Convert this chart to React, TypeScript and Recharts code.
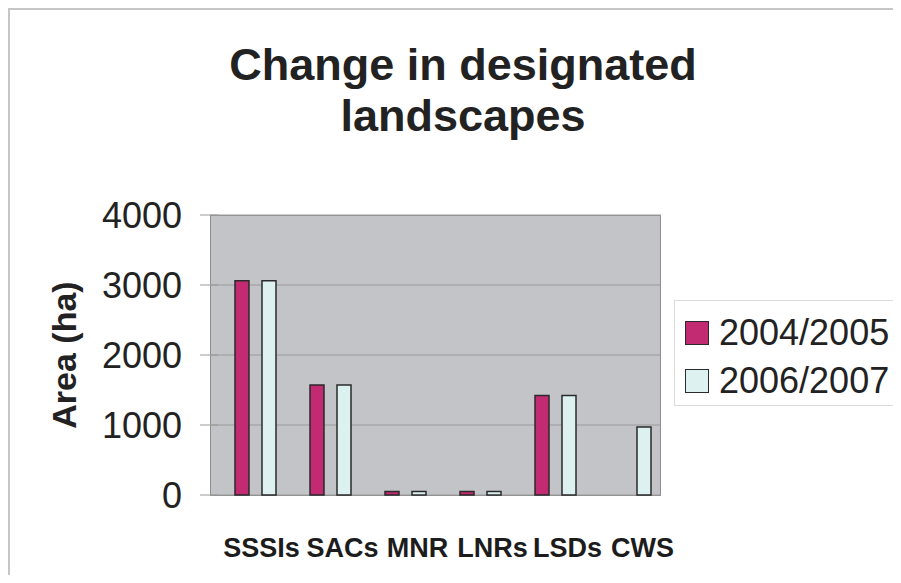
import React from "react";
import { Bar, BarChart, CartesianGrid, Legend, XAxis, YAxis } from "recharts";

const categories = ["SSSIs", "SACs", "MNR", "LNRs", "LSDs", "CWS"];
const area2004 = [3060, 1570, 50, 50, 1420, 0];
const area2006 = [3060, 1570, 50, 50, 1420, 970];
const yTicks = [0, 1000, 2000, 3000, 4000];

const seriesList = [
  { key: "s2004", name: "2004/2005", color: "#c22a72" },
  { key: "s2006", name: "2006/2007", color: "#ddf1f1" },
];

const FONT = '"Liberation Sans", Arial, Helvetica, sans-serif';

const data = categories.map((name, i) => ({ name, s2004: area2004[i], s2006: area2006[i] }));

const LegendBox = () => (
  <div
    style={{
      boxSizing: "border-box",
      width: 219,
      height: 106,
      paddingTop: 8,
      background: "#fff",
      borderTop: "1px solid #dcdcdc",
      borderLeft: "1px solid #dcdcdc",
      borderBottom: "1px solid #dcdcdc",
      fontFamily: FONT,
      whiteSpace: "nowrap",
    }}
  >
    {seriesList.map((s) => (
      <div key={s.key} style={{ display: "flex", alignItems: "center", height: 48 }}>
        <span
          style={{
            boxSizing: "border-box",
            flex: "none",
            width: 24,
            height: 24,
            marginLeft: 10,
            marginRight: 10,
            background: s.color,
            border: "1.5px solid #2a2a2a",
          }}
        />
        <span style={{ fontSize: 36, lineHeight: "48px", color: "#222" }}>{s.name}</span>
      </div>
    ))}
  </div>
);

const YLabel = (props: any) => {
  const vb = props.viewBox || { x: 0, y: 207, height: 280 };
  const cx = vb.x + 56;
  const cy = vb.y + vb.height / 2;
  return (
    <text
      x={cx}
      y={cy}
      transform={`rotate(-90 ${cx} ${cy})`}
      textAnchor="middle"
      dominantBaseline="central"
      fontFamily={FONT}
      fontWeight="bold"
      fontSize={34}
      fill="#222"
    >
      Area (ha)
    </text>
  );
};

// category labels sit a little right of their bar pairs, as in the original
const CategoryTick = (props: any) => {
  const { x, y, payload, index } = props;
  const dx = index === 0 ? 6 : 12;
  return (
    <text
      x={x + dx}
      y={y}
      dy="0.71em"
      textAnchor="middle"
      fontFamily={FONT}
      fontWeight="bold"
      fontSize={27}
      fill="#1c1c1c"
    >
      {payload.value}
    </text>
  );
};

export default function App() {
  return (
    <div style={{ position: "relative", width: 885, height: 567 }}>
      <div
        style={{
          position: "absolute",
          left: 0,
          top: 0,
          width: 885,
          height: 567,
          boxSizing: "border-box",
          borderTop: "2px solid #c6c6c6",
          borderLeft: "2px solid #c6c6c6",
        }}
      />
      <div
        style={{
          position: "absolute",
          left: 202,
          top: 207,
          width: 451,
          height: 281,
          boxSizing: "border-box",
          background: "#c3c4c7",
          border: "1px solid #8e8e8e",
        }}
      />
      <BarChart
        width={885}
        height={567}
        data={data}
        margin={{ top: 207, right: 225, left: 0, bottom: 20 }}
        barSize={14}
        barGap={13}
      >
        <text x={455} y={72} textAnchor="middle" fontFamily={FONT} fontWeight="bold" fontSize={45} fill="#222">
          Change in designated
        </text>
        <text x={455} y={123} textAnchor="middle" fontFamily={FONT} fontWeight="bold" fontSize={45} fill="#222">
          landscapes
        </text>
        <CartesianGrid x={202} width={451} horizontal vertical={false} stroke="#9a9a9a" />
        <XAxis
          dataKey="name"
          interval={0}
          axisLine={false}
          tickLine={false}
          tickSize={0}
          tickMargin={43}
          height={60}
          tick={<CategoryTick />}
        />
        <YAxis
          width={210}
          domain={[0, 4000]}
          ticks={yTicks}
          interval={0}
          axisLine={false}
          tickLine={{ stroke: "#9a9a9a" }}
          tickSize={18}
          tickMargin={18}
          tick={{ fontFamily: FONT, fontSize: 36, fill: "#222" }}
          label={<YLabel />}
        />
        <Legend
          layout="horizontal"
          verticalAlign="middle"
          align="center"
          content={() => <LegendBox />}
          wrapperStyle={{ left: 666, top: 292, width: 219, height: 106 }}
        />
        {seriesList.map((s) => (
          <Bar
            key={s.key}
            dataKey={s.key}
            name={s.name}
            fill={s.color}
            stroke="#2a2a2a"
            strokeWidth={1.5}
            isAnimationActive={false}
          />
        ))}
      </BarChart>
    </div>
  );
}
